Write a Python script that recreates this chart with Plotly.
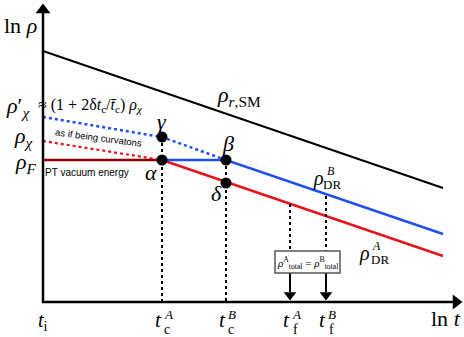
import plotly.graph_objects as go

# Schematic coordinates (x: ln t, y: -ln rho, in diagram units)
t_names = ["t_i", "t_cA", "t_cB", "t_fA", "t_fB"]
t_pos = [43, 162, 226, 290, 326]
x_axis_end = 462
y_axis_top = 3
axis_y = 302

sm_x = [43, 443]
sm_y = [51, 188]

rhoF_x = [43, 162]
rhoF_y = [160, 160]

blue_x = [162, 226, 443]
blue_y = [160, 160, 234]

red_x = [162, 443]
red_y = [160, 256]

blue_dot_x = [43, 162, 226]
blue_dot_y = [117, 137, 160]

red_dot_x = [43, 162]
red_dot_y = [141, 160]

pts_x = [162, 162, 226, 226]
pts_y = [137, 160, 160, 183]

vline_x = [162, 226, 290, 326]
vline_top = [137, 160, 204, 196]
vline_bot = [302, 302, 251, 251]

box_x = [275, 340]
box_y = [251, 273]

SERIF = "Liberation Serif"
SANS = "Liberation Sans"

fig = go.Figure()

fig.add_trace(go.Scatter(x=sm_x, y=sm_y, mode="lines", line=dict(color="black", width=2)))
fig.add_trace(go.Scatter(x=rhoF_x, y=rhoF_y, mode="lines", line=dict(color="#8b0000", width=2.5)))
fig.add_trace(go.Scatter(x=red_x, y=red_y, mode="lines", line=dict(color="#e8141c", width=2.5)))
fig.add_trace(go.Scatter(x=blue_x, y=blue_y, mode="lines", line=dict(color="#1f4ff5", width=2.5)))
fig.add_trace(go.Scatter(x=blue_dot_x, y=blue_dot_y, mode="lines", line=dict(color="#1f4ff5", width=2.5, dash="dot")))
fig.add_trace(go.Scatter(x=red_dot_x, y=red_dot_y, mode="lines", line=dict(color="#e8141c", width=2.2, dash="dot")))

for xv, y0, y1 in zip(vline_x, vline_top, vline_bot):
    fig.add_trace(go.Scatter(x=[xv, xv], y=[y0, y1], mode="lines",
                             line=dict(color="black", width=2, dash="dot")))

fig.add_trace(go.Scatter(x=pts_x, y=pts_y, mode="markers",
                         marker=dict(color="black", size=11)))

# box
fig.add_shape(type="rect", x0=box_x[0], x1=box_x[1], y0=box_y[0], y1=box_y[1],
              line=dict(color="#555555", width=1.5), fillcolor="white", layer="above")

# axes
fig.add_trace(go.Scatter(x=[43, 43, 455], y=[12, axis_y, axis_y], mode="lines",
                         line=dict(color="black", width=2.5)))
fig.add_trace(go.Scatter(x=[43], y=[y_axis_top + 7], mode="markers",
                         marker=dict(symbol="triangle-up", size=13, color="black")))
fig.add_trace(go.Scatter(x=[x_axis_end - 6], y=[axis_y], mode="markers",
                         marker=dict(symbol="triangle-right", size=13, color="black")))

# down arrows from the box
for xv in t_pos[3:]:
    fig.add_trace(go.Scatter(x=[xv, xv], y=[box_y[1], axis_y - 10], mode="lines",
                             line=dict(color="black", width=2)))
    fig.add_trace(go.Scatter(x=[xv], y=[axis_y - 7], mode="markers",
                             marker=dict(symbol="triangle-down", size=11, color="black")))

fig.add_annotation(x=(box_x[0] + box_x[1]) / 2, y=(box_y[0] + box_y[1]) / 2 + 1,
                   text="<i>ρ</i><sup>A</sup><sub>total</sub> = <i>ρ</i><sup>B</sup><sub>total</sub>",
                   showarrow=False, font=dict(family=SERIF, size=11, color="black"))


def txt(x, y, s, size=20, family=SERIF, angle=0, xanchor="center"):
    fig.add_annotation(x=x, y=y, text=s, showarrow=False, textangle=angle, xanchor=xanchor,
                       font=dict(family=family, size=size, color="black"))


# axis labels
txt(20, 25, "ln <i>ρ</i>", 22)
txt(446, 318, "ln <i>t</i>", 22)

# tick labels
tick_labels = ["<i>t</i><sub>i</sub>", "<i>t</i>", "<i>t</i>", "<i>t</i>", "<i>t</i>"]
tick_sup = ["", "A", "B", "A", "B"]
tick_sub = ["", "c", "c", "f", "f"]
txt(t_pos[0], 321, tick_labels[0], 20)
for xv, lab, sp, sb in zip(t_pos[1:], tick_labels[1:], tick_sup[1:], tick_sub[1:]):
    txt(xv - 4, 320, lab, 21)
    txt(xv + 6, 314, "<i>" + sp + "</i>", 13)
    txt(xv + 5, 329, sb, 14)

# y side labels
txt(4, 107, "<i>ρ</i>′<sub><i>χ</i></sub>", 22, xanchor="left")
txt(36, 105, "≈ (1 + 2δ<i>t</i><sub>c</sub>/<i>t̄</i><sub>c</sub>) <i>ρ</i><sub><i>χ</i></sub>", 16, xanchor="left")
txt(24, 137, "<i>ρ</i><sub><i>χ</i></sub>", 22)
txt(26, 163, "<i>ρ</i><sub><i>F</i></sub>", 22)

txt(98, 137, "as if being curvatons", 9.5, SANS, angle=7.5)
txt(87, 172, "PT vacuum energy", 10, SANS)

# point labels
txt(162, 121, "<i>γ</i>", 22)
txt(151, 172, "<i>α</i>", 22)
txt(228, 143, "<i>β</i>", 22)
txt(216, 193, "<i>δ</i>", 22)

# curve labels
txt(239, 96, "<i>ρ</i><sub><i>r</i>,SM</sub>", 22)
txt(318, 178, "<i>ρ</i>", 20)
txt(331, 171, "<i>B</i>", 12)
txt(332, 184, "DR", 13)
txt(364, 253, "<i>ρ</i>", 20)
txt(376, 246, "<i>A</i>", 12)
txt(380, 259, "DR", 13)

fig.update_layout(
    width=464, height=337, margin=dict(l=0, r=0, t=0, b=0),
    paper_bgcolor="white", plot_bgcolor="white", showlegend=False,
    xaxis=dict(range=[0, 464], visible=False, fixedrange=True),
    yaxis=dict(range=[337, 0], visible=False, fixedrange=True),
)
fig.write_html("out.html", config={"displayModeBar": False},
               post_script="document.body.style.margin='0';document.body.style.overflow='hidden';")
